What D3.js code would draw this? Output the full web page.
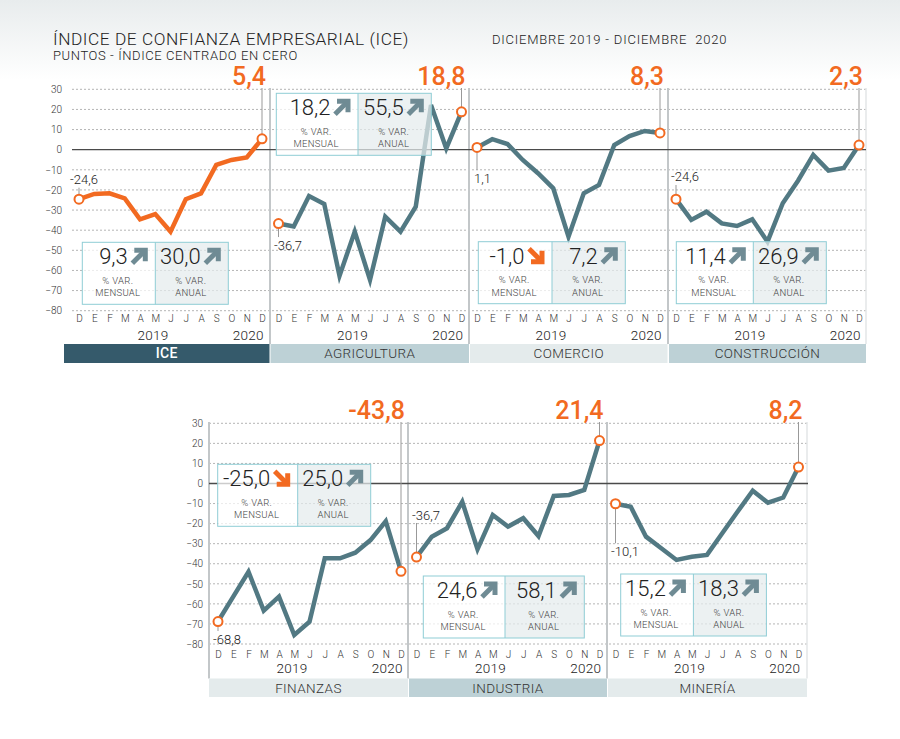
<!DOCTYPE html>
<html><head><meta charset="utf-8">
<script src="https://cdn.jsdelivr.net/npm/d3@7"></script>
<style>
body{margin:0;background:#fff;}
svg{display:block;font-family:Roboto,"Open Sans",sans-serif;}
</style></head><body>
<svg id="chart" width="900" height="739"></svg>
<script>
// ---- data ----
const months = ["D","E","F","M","A","M","J","J","A","S","O","N","D"];
const yTicks = [30,20,10,0,-10,-20,-30,-40,-50,-60,-70,-80];
const sectors = ["ICE","AGRICULTURA","COMERCIO","CONSTRUCCIÓN","FINANZAS","INDUSTRIA","MINERÍA"];
const iceValues          = [-24.6,-22.0,-21.7,-24.2,-34.6,-32.0,-40.7,-24.6,-21.7,-7.6,-5.1,-3.9,5.4];
const agriculturaValues  = [-36.7,-38.2,-23.0,-27.0,-62.7,-40.7,-64.7,-33.3,-40.7,-28.3,22.2,0.6,18.8];
const comercioValues     = [1.1,5.2,2.8,-5.1,-11.7,-19.2,-43.2,-21.7,-17.5,2.3,6.8,9.3,8.3];
const construccionValues = [-24.6,-34.9,-30.8,-36.6,-37.9,-34.6,-45.7,-26.6,-15.4,-2.6,-10.4,-9.1,2.3];
const finanzasValues     = [-68.8,-56.4,-44.0,-63.4,-56.4,-75.5,-68.9,-37.3,-37.3,-34.5,-28.2,-18.8,-43.8];
const industriaValues    = [-36.7,-26.5,-22.3,-9.1,-32.8,-15.7,-21.5,-17.3,-26.2,-6.2,-5.7,-3.2,21.4];
const mineriaValues      = [-10.1,-11.6,-26.5,-32.3,-38.1,-36.5,-35.6,-24.8,-14.1,-3.6,-9.6,-7.0,8.2];
const seriesValues = [iceValues,agriculturaValues,comercioValues,construccionValues,finanzasValues,industriaValues,mineriaValues];
const varMensual = [9.3,18.2,-1.0,11.4,-25.0,24.6,15.2];
const varAnual   = [30.0,55.5,7.2,26.9,25.0,58.1,18.3];
const yearLabels = ["2019","2020"];

// ---- layout ----
const ORANGE = "#f26a21", TEAL = "#527983", ARROW_GRAY = "#6f8b94";
const rows = [
  {yTop:89.3, yBottom:310.7, gridX0:72, gridX1:866, axisX:62, monthY:319.3, yearY:335, barY:344, barH:19, bigY:85, leaderTop:88, seps:[270,469,668], sepLight:[866]},
  {yTop:423.3, yBottom:644, gridX0:209, gridX1:808, axisX:203, monthY:655, yearY:668.5, barY:678.5, barH:18.5, bigY:419, leaderTop:422, seps:[209,408,607], sepLight:[807]}
];
const panels = [
  {row:0, left:70,    barX0:64,    barX1:269.5, barFill:"#355a6b", barText:"#fff", line:ORANGE, box:[82.3,242.3,73,73],   start:{side:"above",len:7,dx:-9}},
  {row:0, left:269.5, barX0:270.5, barX1:469,   barFill:"#bdd1d6", barText:"#333", line:TEAL,   box:[276.3,93.3,81.7,73.3], start:{side:"below",len:9,dx:-4.5}},
  {row:0, left:468,   barX0:470,   barX1:667.5, barFill:"#e4ebec", barText:"#333", line:TEAL,   box:[478.3,241.7,73.7,73.3], start:{side:"below",len:18,dx:-3}},
  {row:0, left:667,   barX0:669,   barX1:866,   barFill:"#bdd1d6", barText:"#333", line:TEAL,   box:[676.3,241.7,77,73],   start:{side:"above",len:9.7,dx:-5}},
  {row:1, left:209,   barX0:209,   barX1:408,   barFill:"#e4ebec", barText:"#333", line:TEAL,   box:[217.7,464.3,80,73],   start:{side:"below",len:5,dx:-5}},
  {row:1, left:407.5, barX0:409,   barX1:607,   barFill:"#bdd1d6", barText:"#333", line:TEAL,   box:[423.3,576,81.7,79.3], start:{side:"above",len:29.6,dx:-4.5}},
  {row:1, left:606.5, barX0:608,   barX1:807,   barFill:"#e4ebec", barText:"#333", line:TEAL,   box:[620.7,574,72.7,73],   start:{side:"below",len:35,dx:-4.5}}
];
const BOX_H = 62, R = 4.5;

const loc = d3.formatLocale({decimal:",", thousands:".", grouping:[3], currency:["",""], minus:"-"});
const fmt = loc.format(".1f");

const svg = d3.select("#chart");

// header background
const defs = svg.append("defs");
const grad = defs.append("linearGradient").attr("id","hdr").attr("x1",0).attr("x2",0).attr("y1",0).attr("y2",1);
grad.append("stop").attr("offset",0).attr("stop-color","#e8eced");
grad.append("stop").attr("offset",1).attr("stop-color","#ffffff");
svg.append("rect").attr("x",0).attr("y",0).attr("width",900).attr("height",80).attr("fill","url(#hdr)");

svg.append("text").attr("x",53).attr("y",45).attr("font-size",17.3).attr("font-weight",300)
  .attr("letter-spacing",0.55).attr("fill","#222").text("ÍNDICE DE CONFIANZA EMPRESARIAL (ICE)");
svg.append("text").attr("x",53).attr("y",60).attr("font-size",13).attr("font-weight",300).attr("letter-spacing",0.6).attr("fill","#222")
  .text("PUNTOS - ÍNDICE CENTRADO EN CERO");
svg.append("text").attr("x",492).attr("y",44.3).attr("font-size",13).attr("font-weight",300).attr("letter-spacing",0.8).attr("fill","#222")
  .attr("xml:space","preserve").text("DICIEMBRE 2019 - DICIEMBRE  2020");

// ---- rows: grid, axis, separators ----
rows.forEach(r => {
  r.y = d3.scaleLinear().domain([-80,30]).range([r.yBottom, r.yTop]);
  const g = svg.append("g");
  g.selectAll("line.grid").data(yTicks.filter(d => d !== 0)).join("line")
    .attr("x1",r.gridX0).attr("x2",r.gridX1)
    .attr("y1",d => r.y(d)).attr("y2",d => r.y(d))
    .attr("stroke","#b5b5b5").attr("stroke-width",1).attr("stroke-dasharray","2,2");
  const ax = g.append("g").attr("transform",`translate(${r.axisX},0)`)
    .call(d3.axisLeft(r.y).tickValues(yTicks).tickSize(0).tickPadding(0).tickFormat(d3.format("d")));
  ax.select(".domain").remove();
  ax.selectAll("text").attr("font-size",10).attr("font-weight",300).attr("fill","#333").attr("font-family","Roboto,sans-serif");
  r.gSep = svg.append("g");
  r.seps.forEach(x => r.gSep.append("line").attr("x1",x).attr("x2",x)
    .attr("y1",r.leaderTop).attr("y2",r.barY).attr("stroke","#c3c7c9").attr("stroke-width",2));
  r.sepLight.forEach(x => r.gSep.append("line").attr("x1",x).attr("x2",x)
    .attr("y1",r.leaderTop).attr("y2",r.barY).attr("stroke","#e3e6e7").attr("stroke-width",1.5));
});

// zero lines above grid
rows.forEach(r => {
  svg.append("line").attr("x1",r.gridX0).attr("x2",r.gridX1)
    .attr("y1",r.y(0)).attr("y2",r.y(0)).attr("stroke","#4a4a4a").attr("stroke-width",1.3);
});

function arrow(g, x, y, up, color){
  const a = g.append("g").attr("transform",`translate(${x},${y})`);
  if(up){
    a.append("path").attr("d","M3.5,2.5H14.5V13.5").attr("fill","none").attr("stroke",color).attr("stroke-width",5).attr("stroke-linejoin","miter");
    a.append("path").attr("d","M1.5,15.5L13,4").attr("stroke",color).attr("stroke-width",5);
  } else {
    a.append("path").attr("d","M3.5,14.5H14.5V3.5").attr("fill","none").attr("stroke",color).attr("stroke-width",5).attr("stroke-linejoin","miter");
    a.append("path").attr("d","M1.5,1.5L13,13").attr("stroke",color).attr("stroke-width",5);
  }
}

function valueCell(g, x0, w, top, v, caption){
  const right = x0 + w;
  const up = v >= 0;
  arrow(g, right - 7.5 - 17, top + 5.5, up, up ? ARROW_GRAY : ORANGE);
  g.append("text").attr("x", right - 7.5 - 17 - 3).attr("y", top + 22).attr("text-anchor","end")
    .attr("font-size",22).attr("font-weight",300).attr("fill","#222").text(fmt(v));
  const cx = x0 + w/2 - 1;
  g.append("text").attr("x",cx).attr("y",top + 41.5).attr("text-anchor","middle")
    .attr("font-size",9.5).attr("font-weight",300).attr("letter-spacing",0.3).attr("fill","#444").text("% VAR.");
  g.append("text").attr("x",cx).attr("y",top + 54).attr("text-anchor","middle")
    .attr("font-size",9.5).attr("font-weight",300).attr("letter-spacing",0.3).attr("fill","#444").text(caption);
}

// ---- panels ----
panels.forEach((p, i) => {
  const r = rows[p.row];
  const vals = seriesValues[i];
  const x = d3.scaleLinear().domain([0, months.length - 1]).range([p.left + 9, p.left + 192]);
  const y = r.y;
  const g = svg.append("g");

  // month axis
  const mx = g.append("g").attr("transform",`translate(0,${r.monthY - 4})`)
    .call(d3.axisBottom(x).tickValues(d3.range(months.length)).tickSize(0).tickPadding(0).tickFormat(k => months[k]));
  mx.select(".domain").remove();
  mx.selectAll("text").attr("font-size",10).attr("font-weight",300).attr("fill","#333").attr("font-family","Roboto,sans-serif");
  g.append("text").attr("x",x(4.85)).attr("y",r.yearY + 4.5).attr("text-anchor","middle")
    .attr("font-size",13.5).attr("font-weight",300).attr("letter-spacing",0.3).attr("fill","#222").text(yearLabels[0]);
  g.append("text").attr("x",x(11.1)).attr("y",r.yearY + 4.5).attr("text-anchor","middle")
    .attr("font-size",13.5).attr("font-weight",300).attr("letter-spacing",0.3).attr("fill","#222").text(yearLabels[1]);

  // sector bar
  g.append("rect").attr("x",p.barX0).attr("y",r.barY).attr("width",p.barX1 - p.barX0).attr("height",r.barH).attr("fill",p.barFill);
  g.append("text").attr("x",(p.barX0 + p.barX1)/2).attr("y",r.barY + r.barH/2 + 4.8).attr("text-anchor","middle")
    .attr("font-size", i === 0 ? 14 : 13.5).attr("letter-spacing",0.4).attr("fill",p.barText)
    .attr("font-weight", i === 0 ? 500 : 300).text(sectors[i]);

  // line
  const line = d3.line().x((d,k) => x(k)).y(d => y(d));
  g.append("path").datum(vals).attr("d",line).attr("fill","none")
    .attr("stroke",p.line).attr("stroke-width",4.5).attr("stroke-linejoin","miter").attr("stroke-linecap","butt");

  // leader + big label for last value
  const last = vals.length - 1;
  g.append("line").attr("x1",x(last)).attr("x2",x(last)).attr("y1",r.leaderTop).attr("y2",y(vals[last]) - R)
    .attr("stroke","#999").attr("stroke-width",1);
  g.append("text").attr("x",x(last) + 4).attr("y",r.bigY).attr("text-anchor","end")
    .attr("font-size",25).attr("font-weight",500).attr("fill",ORANGE).text(fmt(vals[last]));

  // start label
  const s = p.start, cy0 = y(vals[0]);
  let y1, y2, ty;
  if(s.side === "above"){ y1 = cy0 - R; y2 = y1 - s.len; ty = y2 - 3.5; }
  else { y1 = cy0 + R; y2 = y1 + s.len; ty = y2 + 13; }
  g.append("line").attr("x1",x(0)).attr("x2",x(0)).attr("y1",y1).attr("y2",y2).attr("stroke","#999").attr("stroke-width",1);
  g.append("text").attr("x",x(0) + s.dx).attr("y",ty).attr("font-size",13).attr("font-weight",300)
    .attr("fill","#222").text(fmt(vals[0]));

  // end markers
  g.selectAll("circle").data([0, last]).join("circle")
    .attr("cx",k => x(k)).attr("cy",k => y(vals[k])).attr("r",R)
    .attr("fill","#fff").attr("stroke",ORANGE).attr("stroke-width",2);

  // variation box
  const [bx, by, lw, rw] = p.box;
  const b = svg.append("g");
  b.append("rect").attr("x",bx).attr("y",by).attr("width",lw).attr("height",BOX_H).attr("fill","#fff").attr("fill-opacity",0.72);
  b.append("rect").attr("x",bx + lw).attr("y",by).attr("width",rw).attr("height",BOX_H).attr("fill","#e4ebed").attr("fill-opacity",0.72);
  b.append("rect").attr("x",bx).attr("y",by).attr("width",lw + rw).attr("height",BOX_H).attr("fill","none").attr("stroke","#8fcdd5").attr("stroke-width",1);
  b.append("line").attr("x1",bx + lw).attr("x2",bx + lw).attr("y1",by).attr("y2",by + BOX_H).attr("stroke","#8fcdd5").attr("stroke-width",1);
  valueCell(b, bx, lw, by, varMensual[i], "MENSUAL");
  valueCell(b, bx + lw, rw, by, varAnual[i], "ANUAL");
});
</script>
</body></html>
